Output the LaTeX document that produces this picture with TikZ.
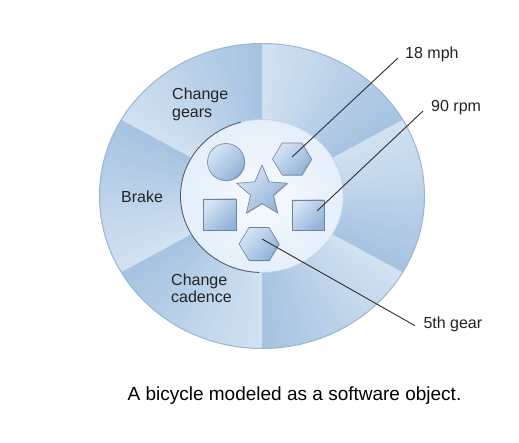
\documentclass[tikz,border=0pt]{standalone}
\usepackage{fontspec}
\setmainfont{Liberation Sans}
\usetikzlibrary{calc,shapes.geometric,shadows}
\definecolor{secdark}{RGB}{166,195,226}
\definecolor{seclight}{RGB}{210,225,241}
\definecolor{outerline}{RGB}{150,182,214}
\definecolor{innerc}{RGB}{247,251,255}
\definecolor{innerd}{RGB}{228,239,250}
\definecolor{inneredge}{RGB}{80,86,96}
\definecolor{inneredgelight}{RGB}{190,208,230}
\definecolor{shlight}{RGB}{214,228,245}
\definecolor{shdark}{RGB}{146,179,217}
\definecolor{shedge}{RGB}{110,130,158}
\definecolor{shadowc}{RGB}{120,132,150}
\definecolor{labeltext}{RGB}{35,35,35}
\definecolor{connc}{RGB}{45,45,45}
\tikzset{
  shp/.style={top color=shlight, bottom color=shdark, shading angle=45,
    draw=shedge, line width=0.6pt, inner sep=0pt,
    drop shadow={shadow xshift=0.8pt, shadow yshift=-0.8pt, fill=shadowc, opacity=0.45}},
  lbl/.style={inner sep=0pt, text=labeltext, align=left,
    font=\fontsize{16}{17.6}\selectfont},
  conn/.style={draw=connc, line width=0.9pt},
}
\begin{document}
\begin{tikzpicture}[x=1pt,y=1pt]
\useasboundingbox (0,0) rectangle (519,442);
\fill[white] (0,0) rectangle (519,442);
\coordinate (O) at (262,246);
% outer ring sectors with angular gradient
\begin{scope}[shift={(262,246)}]
\foreach \k in {0,...,5}{
  \foreach \i in {0,...,23}{
    \pgfmathsetmacro\ta{-90+60*\k+2.5*\i}
    \pgfmathsetmacro\tb{\ta+2.5+(\i<23 ? 0.4 : 0)}
    \pgfmathsetmacro\p{100*\i/23}
    \fill[seclight!\p!secdark] (0,0) -- (\ta:162.5 and 152.5)
      arc[start angle=\ta, end angle=\tb, x radius=162.5pt, y radius=152.5pt] -- cycle;
  }
}
\end{scope}
\draw[outerline, line width=1pt] (O) ellipse[x radius=162.5pt, y radius=152.5pt];
% inner circle
\shade[inner color=innerc, outer color=innerd] (O) ellipse[x radius=81.5pt, y radius=76.5pt];
\draw[inneredgelight, line width=0.7pt] (O) ellipse[x radius=81.5pt, y radius=76.5pt];
\draw[inneredge, line width=0.8pt] ($(O)+(105:81.5 and 76.5)$)
  arc[start angle=105, end angle=268, x radius=81.5pt, y radius=76.5pt];
% shapes
\node[shp, circle, minimum size=37pt] (circ) at (226,280) {};
\node[shp, regular polygon, regular polygon sides=6, minimum size=39pt, yscale=0.95] (hexA) at (292,283) {};
\node[shp, star, star points=5, star point ratio=2.2, minimum size=53pt] (star) at (262,250.5) {};
\node[shp, rectangle, minimum width=33pt, minimum height=31pt] (sqL) at (219.5,227.5) {};
\node[shp, rectangle, minimum width=32pt, minimum height=30pt] (sqR) at (308,227) {};
\node[shp, regular polygon, regular polygon sides=6, minimum size=40pt, yscale=0.95] (hexB) at (259,198) {};
% ring labels (anchor at baseline of last line)
\node[lbl, anchor=base west] (gears) at (172,324.7) {Change\\gears};
\node[lbl, anchor=base west] (brake) at (121,239.3) {Brake};
\node[lbl, anchor=base west] (cadence) at (171,139.3) {Change\\cadence};
% value labels
\node[lbl, anchor=base west] (mph) at (405,383.7) {18 mph};
\node[lbl, anchor=base west] (rpm) at (431,330.3) {90 rpm};
\node[lbl, anchor=base west] (gear) at (423.3,113.7) {5th gear};
\coordinate (e18) at (398,384);
\coordinate (e90) at (423,331);
\coordinate (e5) at (415,116.3);
\draw[conn] ($(hexA.center)+(0,2)$) -- (e18);
\draw[conn] ($(sqR.center)+(9,4)$) -- (e90);
\draw[conn] ($(hexB.center)+(3,5)$) -- (e5);
% caption
\node[inner sep=0pt, anchor=base, font=\fontsize{19}{22}\selectfont] (caption) at (294.5,42) {A bicycle modeled as a software object.};
\end{tikzpicture}
\end{document}
